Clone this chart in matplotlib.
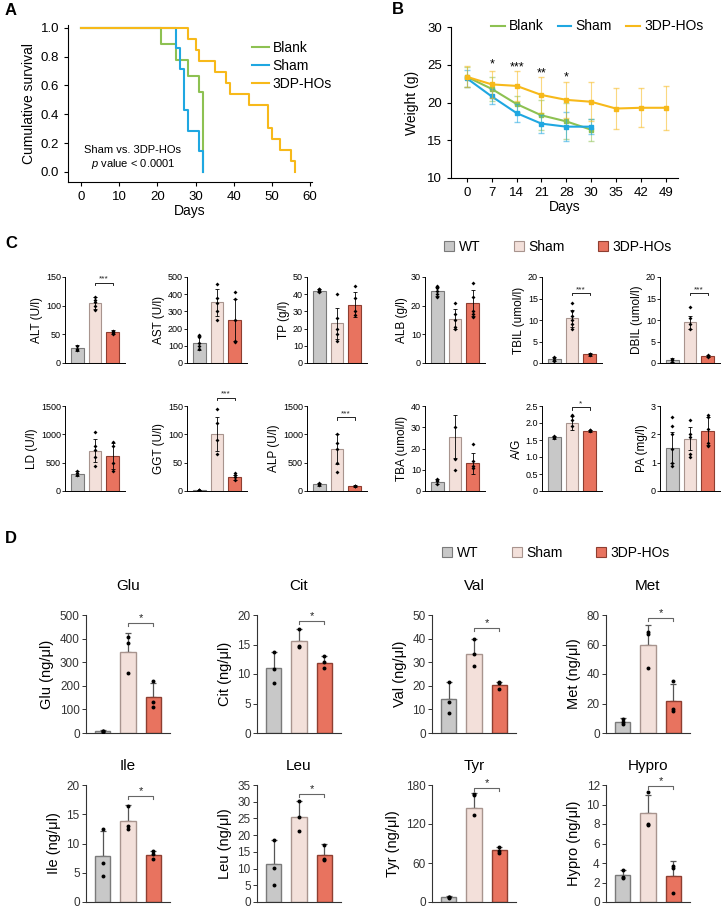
import numpy as np
import matplotlib
matplotlib.use("Agg")
import matplotlib.pyplot as plt
from matplotlib.patches import Patch
from matplotlib.lines import Line2D
from matplotlib.ticker import FuncFormatter

plt.rcParams['font.family'] = ['Liberation Sans', 'DejaVu Sans']
plt.rcParams['mathtext.fontset'] = 'custom'
plt.rcParams['mathtext.it'] = 'Liberation Sans:italic'
plt.rcParams['mathtext.rm'] = 'Liberation Sans'

# ---- A: survival (step times / survival fraction) ----
blank_t = [0, 21, 25, 28, 31, 32]
blank_s = [1.0, 0.889, 0.778, 0.667, 0.556, 0.0]
sham_t = [0, 25, 26, 27, 28, 31, 32]
sham_s = [1.0, 0.857, 0.714, 0.429, 0.286, 0.143, 0.0]
hos_t = [0, 28, 30, 31, 35, 38, 39, 44, 49, 50, 52, 55, 56]
hos_s = [1.0, 0.923, 0.846, 0.769, 0.692, 0.615, 0.538, 0.462, 0.308, 0.231, 0.154, 0.077, 0.0]

# ---- B: body weight ----
days = ["0", "7", "14", "21", "28", "30", "35", "42", "49"]
blank_w = [23.4, 21.8, 19.8, 18.3, 17.5, 16.4]
blank_we = [1.35, 1.6, 1.0, 2.0, 2.4, 1.45]
sham_w = [23.2, 20.8, 18.6, 17.2, 16.8, 16.8]
sham_we = [1.1, 1.0, 1.2, 1.2, 1.9, 1.0]
hos_w = [23.4, 22.4, 22.2, 21.0, 20.35, 20.1, 19.2, 19.3, 19.3]
hos_we = [1.4, 1.8, 2.0, 2.4, 2.4, 2.6, 2.7, 2.6, 2.9]
star_idx = [1, 2, 3, 4]
star_txt = ["*", "***", "**", "*"]
star_y = [25.0, 24.7, 23.8, 23.3]

# ---- C: serum biochemistry ----
groups = ["WT", "Sham", "3DP-HOs"]
c_labels = ["ALT (U/l)", "AST (U/l)", "TP (g/l)", "ALB (g/l)", "TBIL (umol/l)", "DBIL (umol/l)",
            "LD (U/l)", "GGT (U/l)", "ALP (U/l)", "TBA (umol/l)", "A/G", "PA (mg/l)"]
c_means = [[26, 105, 54], [116, 352, 250], [42, 23, 34], [25, 15.3, 21], [1.0, 10.4, 2.0],
           [0.7, 9.5, 1.6], [305, 710, 625], [1, 100, 24], [118, 741, 88], [4.3, 25.6, 13],
           [1.58, 2.0, 1.77], [1.53, 1.85, 2.12]]
c_errs = [[5, 10, 3], [40, 80, 120], [1, 9, 7], [1.5, 3.5, 4.5], [0.5, 2, 0.3], [0.4, 1.5, 0.3],
          [40, 200, 230], [0.5, 30, 5], [25, 270, 15], [1.2, 10, 5], [0.05, 0.2, 0.03],
          [0.55, 0.4, 0.5]]
c_dots = [
    [[22, 25, 30], [93, 100, 106, 110, 115], [50, 52, 54, 56]],
    [[80, 100, 115, 150, 165], [250, 300, 350, 380, 460], [120, 130, 250, 370, 410]],
    [[41, 42, 42.5, 43, 43], [40, 26, 20, 17, 13], [45, 38, 28, 30]],
    [[23, 24, 25, 26, 27, 26.5], [21, 17, 15, 12, 12.5], [28, 23, 18, 17, 16]],
    [[0.5, 0.8, 1.2, 1.5], [14, 12, 11, 10, 9, 8], [1.8, 2.0, 2.1]],
    [[0.3, 0.6, 0.9], [13, 10.5, 9, 8], [1.4, 1.6, 1.8]],
    [[290, 320, 360], [450, 600, 720, 800, 1040], [350, 500, 800, 860]],
    [[1, 1, 1], [145, 120, 90, 65], [20, 24, 28, 31]],
    [[100, 115, 135], [1000, 850, 740, 500, 330], [80, 90, 95]],
    [[3.5, 4.5, 5.5, 5], [30, 15, 10], [22, 14, 11, 12]],
    [[1.55, 1.58, 1.62, 1.6], [2.25, 2.2, 2.1, 1.9], [1.76, 1.78, 1.8]],
    [[2.6, 2.3, 2.0, 1.5, 1.0, 0.9], [2.5, 2.0, 1.9, 1.3, 1.2], [2.7, 2.6, 2.2, 1.7, 1.6]],
]
c_ymax = [150, 500, 50, 30, 20, 20, 1500, 150, 1500, 40, 2.5, 3]
c_ystep = [50, 100, 10, 10, 5, 5, 500, 50, 500, 10, 0.5, 1]
c_sig = ["***", None, None, None, "***", "***", None, "***", "***", None, "*", None]
c_sig_y = [140, 0, 0, 0, 16.3, 16.3, 0, 165, 1300, 0, 2.47, 0]

# ---- D: amino acids ----
d_names = ["Glu", "Cit", "Val", "Met", "Ile", "Leu", "Tyr", "Hypro"]
d_means = [[8, 343, 152], [11.1, 15.6, 11.9], [14.3, 33.6, 20.2], [7.2, 59.8, 21.5],
           [7.8, 13.9, 8.0], [11.4, 25.5, 14.1], [8, 145, 80], [2.75, 9.1, 2.65]]
d_errs = [[3, 80, 60], [2.7, 2.0, 1.2], [7.5, 6.3, 1.6], [2.8, 13.5, 12],
          [4.4, 2.7, 0.8], [7.2, 4.7, 3.3], [1.5, 23, 5], [0.5, 1.9, 1.55]]
d_dots = [
    [[8, 9, 6], [407, 381, 254], [220, 131, 110]],
    [[13.8, 10.8, 8.4], [17.6, 14.5, 14.8], [13.1, 12.0, 11.0]],
    [[21.8, 13.0, 8.4], [39.9, 33.6, 28.6], [21.5, 21.2, 18.5]],
    [[9.4, 7.4, 6.0], [68.6, 67.2, 44.4], [35, 16, 15]],
    [[12.5, 6.6, 4.5], [16.4, 13.0, 12.4], [8.8, 8.2, 7.3]],
    [[18.5, 10.2, 5.1], [30.2, 25.5, 21.3], [17.1, 12.9, 12.7]],
    [[7, 7.5, 6], [166, 165, 134], [85, 79, 76]],
    [[3.25, 2.55, 2.5], [11.3, 7.95, 7.85], [3.65, 3.5, 0.9]],
]
d_ymax = [500, 20, 50, 80, 20, 35, 180, 12]
d_ystep = [100, 5, 10, 20, 5, 5, 60, 2]
d_sig_y = [465, 19.0, 44.5, 78, 18.1, 32.3, 175, 11.9]

line_colors = ["#8dc152", "#1fa7e1", "#f7b91a"]
bar_colors = ["#c8c8c8", "#f3e0da", "#e8735f"]
bar_edges = ["#7a7a7a", "#a8948e", "#8e3e31"]

W, H = 725, 910
fig = plt.figure(figsize=(W / 100, H / 100), dpi=100)


def add_ax(l, t, r, b):
    return fig.add_axes([l / W, 1 - b / H, (r - l) / W, (b - t) / H])


def tick_fmt(step):
    def f(v, pos):
        if abs(v) < 1e-9:
            return "0"
        return f"{v:.1f}" if step < 1 else f"{v:g}"
    return FuncFormatter(f)


# ---------------- Panel A ----------------
axA = add_ax(68, 25, 312, 182)
for t, s, c, lab in [(blank_t, blank_s, line_colors[0], "Blank"),
                     (sham_t, sham_s, line_colors[1], "Sham"),
                     (hos_t, hos_s, line_colors[2], "3DP-HOs")]:
    axA.step(t, s, where="post", color=c, lw=1.5, label=lab)
axA.set_xlim(-3.4, 60.5)
axA.set_ylim(-0.07, 1.02)
axA.set_xticks(np.arange(0, 61, 10))
axA.set_yticks(np.arange(0, 1.01, 0.2))
axA.yaxis.set_major_formatter(FuncFormatter(lambda v, p: f"{v:.1f}"))
axA.tick_params(labelsize=9.5, length=3, width=0.8)
for sp in ["top", "right"]:
    axA.spines[sp].set_visible(False)
axA.set_xlabel("Days", fontsize=10, labelpad=1)
axA.set_ylabel("Cumulative survival", fontsize=10, labelpad=3)
axA.legend(loc="upper left", bbox_to_anchor=(0.754, 0.9), frameon=False, fontsize=10,
           handlelength=1.2, handletextpad=0.3, labelspacing=0.3, borderpad=0, borderaxespad=0)
axA.text(13.6, 0.153, "Sham vs. 3DP-HOs", ha="center", va="center", fontsize=8)
axA.text(13.6, 0.056, r"$p$ value < 0.0001", ha="center", va="center", fontsize=8)

# ---------------- Panel B ----------------
axB = add_ax(451, 27, 678, 178)
xi = np.arange(len(days))
for w, e, c in [(blank_w, blank_we, line_colors[0]),
                (sham_w, sham_we, line_colors[1]),
                (hos_w, hos_we, line_colors[2])]:
    x = xi[:len(w)]
    axB.errorbar(x, w, yerr=e, fmt="none", ecolor=c, elinewidth=0.8, capsize=2, alpha=0.55)
    axB.plot(x, w, color=c, lw=1.5, marker="s", ms=3)
for i, t, y in zip(star_idx, star_txt, star_y):
    axB.text(i, y, t, ha="center", va="center", fontsize=9)
axB.set_xlim(-0.64, 8.5)
axB.set_ylim(10, 30)
axB.set_xticks(xi)
axB.set_xticklabels(days)
axB.set_yticks(np.arange(10, 31, 5))
axB.tick_params(labelsize=9.5, length=3, width=0.8)
for sp in ["top", "right"]:
    axB.spines[sp].set_visible(False)
axB.set_xlabel("Days", fontsize=10, labelpad=1)
axB.set_ylabel("Weight (g)", fontsize=10, labelpad=6)
axB.legend(handles=[Line2D([], [], color=c, lw=1.5) for c in line_colors],
           labels=["Blank", "Sham", "3DP-HOs"],
           loc="upper left", bbox_to_anchor=(0.175, 1.05), frameon=False, fontsize=10, ncol=3,
           handlelength=1.0, handletextpad=0.3, columnspacing=1.0, borderpad=0, borderaxespad=0)


def bracket(ax, y, txt, dy, color, fs, lw):
    ax.plot([1, 1, 2, 2], [y - dy, y, y, y - dy], color=color, lw=lw, clip_on=False)
    ax.text(1.5, y, txt, ha="center", va="bottom", fontsize=fs, color="#222222")


# ---------------- Panel C ----------------
c_cols = [65, 187, 307, 425, 542, 660]
c_rows = [(277, 363), (406, 491)]
for k in range(12):
    r, cidx = divmod(k, 6)
    top, bot = c_rows[r]
    ax = add_ax(c_cols[cidx], top, c_cols[cidx] + 60, bot)
    x = np.arange(3)
    ax.bar(x, c_means[k], width=0.72, color=bar_colors, edgecolor=bar_edges, linewidth=0.8, zorder=2)
    ax.errorbar(x, c_means[k], yerr=c_errs[k], fmt="none", ecolor="black", elinewidth=0.6,
                capsize=1.5, capthick=0.6, zorder=3)
    for i in range(3):
        ax.scatter([i] * len(c_dots[k][i]), c_dots[k][i], s=4, marker="D", color="black",
                   linewidths=0, zorder=4)
    ax.set_xlim(-0.67, 2.67)
    ax.set_ylim(0, c_ymax[k])
    ax.set_yticks(np.arange(0, c_ymax[k] + c_ystep[k] / 2, c_ystep[k]))
    ax.yaxis.set_major_formatter(tick_fmt(c_ystep[k]))
    ax.set_xticks([])
    ax.tick_params(labelsize=6.5, length=2, width=0.6, pad=1)
    for sp in ["top", "right"]:
        ax.spines[sp].set_visible(False)
    for sp in ["left", "bottom"]:
        ax.spines[sp].set_linewidth(0.7)
    ax.set_ylabel(c_labels[k], fontsize=8.5, labelpad=2)
    if c_sig[k]:
        bracket(ax, c_sig_y[k], c_sig[k], c_ymax[k] * 0.03, "black", 6, 0.6)

fig.legend(handles=[Patch(facecolor=bar_colors[i], edgecolor=bar_edges[i], lw=0.8) for i in range(3)],
           labels=groups, loc="center left", bbox_to_anchor=(444 / W, 1 - 247 / H), ncol=3,
           frameon=False, fontsize=10, handlelength=0.75, handleheight=0.75, handletextpad=0.3,
           columnspacing=2.4, borderpad=0, borderaxespad=0)

# ---------------- Panel D ----------------
d_cols = [86, 257, 432, 606]
d_rows = [(615, 733), (785, 902)]
d_pads = [18, 11]
for k in range(8):
    r, cidx = divmod(k, 4)
    top, bot = d_rows[r]
    ax = add_ax(d_cols[cidx], top, d_cols[cidx] + 84, bot)
    x = np.arange(3)
    ax.errorbar(x, d_means[k], yerr=[[0, 0, 0], d_errs[k]], fmt="none", ecolor="#555555",
                elinewidth=0.9, capsize=2.5, capthick=0.9, zorder=1)
    ax.bar(x, d_means[k], width=0.6, color=bar_colors, edgecolor=bar_edges, linewidth=1.0, zorder=2)
    for i in range(3):
        ax.scatter([i] * len(d_dots[k][i]), d_dots[k][i], s=8, marker="o", color="black",
                   linewidths=0, zorder=4)
    ax.set_xlim(-0.66, 2.66)
    ax.set_ylim(0, d_ymax[k])
    ax.set_yticks(np.arange(0, d_ymax[k] + d_ystep[k] / 2, d_ystep[k]))
    ax.yaxis.set_major_formatter(tick_fmt(d_ystep[k]))
    ax.set_xticks([])
    ax.tick_params(labelsize=8.5, length=3, width=0.7, pad=1.5, colors="#333333")
    for sp in ["top", "right"]:
        ax.spines[sp].set_visible(False)
    for sp in ["left", "bottom"]:
        ax.spines[sp].set_linewidth(0.8)
        ax.spines[sp].set_color("#333333")
    ax.set_ylabel(f"{d_names[k]} (ng/\u03bcl)", fontsize=10.5, labelpad=4)
    ax.set_title(d_names[k], fontsize=11, pad=d_pads[r])
    bracket(ax, d_sig_y[k], "*", d_ymax[k] * 0.025, "#666666", 8, 0.8)

fig.legend(handles=[Patch(facecolor=bar_colors[i], edgecolor=bar_edges[i], lw=0.8) for i in range(3)],
           labels=groups, loc="center left", bbox_to_anchor=(442 / W, 1 - 553 / H), ncol=3,
           frameon=False, fontsize=10, handlelength=0.75, handleheight=0.75, handletextpad=0.3,
           columnspacing=2.4, borderpad=0, borderaxespad=0)

for lab, x, y in [("A", 5, 3), ("B", 392, 2), ("C", 5, 236), ("D", 5, 531)]:
    fig.text(x / W, 1 - y / H, lab, fontsize=12, fontweight="bold", va="top", ha="left")

fig.savefig("out.png", dpi=100)
